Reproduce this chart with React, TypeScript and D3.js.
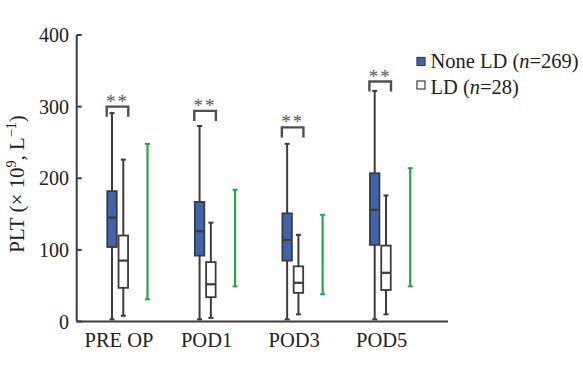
import React from "react";
import * as d3 from "d3";

const categories = ["PRE OP", "POD1", "POD3", "POD5"];
// None LD (n=269)
const noneMax = [291, 273, 248, 322];
const noneQ3 = [182, 167, 151, 207];
const noneMed = [145, 126, 114, 156];
const noneQ1 = [104, 92, 85, 107];
const noneMin = [3, 3, 3, 3];
// LD (n=28)
const ldMax = [226, 138, 121, 176];
const ldQ3 = [120, 83, 77, 106];
const ldMed = [85, 52, 54, 68];
const ldQ1 = [47, 34, 40, 44];
const ldMin = [8, 5, 10, 10];
// green reference ranges
const refTop = [248, 184, 149, 214];
const refBottom = [31, 49, 38, 49];
// significance brackets
const sigTop = [300, 294, 271, 335];
const sigLabels = ["**", "**", "**", "**"];
const yTicks = [0, 100, 200, 300, 400];

const FONT = "'Liberation Serif', 'Times New Roman', serif";
const STROKE = "#3c3c3c";
const BLUE = "#3e64ae";
const GREEN = "#1aa94c";

export default function App() {
  const W = 583, H = 382;
  const y = d3.scaleLinear().domain([0, 400]).range([321.5, 35]);
  const x = d3.scalePoint<string>().domain(categories).range([112, 374.7]);
  const axisX = 76.7;
  const boxW = 9.5;
  const ldOff = 11.3;
  const refOff = 35.5;
  const cap = 2.5;
  const unit = y(0) - y(20);

  const box = (cx: number, mn: number, q1: number, md: number, q3: number, mx: number, fill: string, key: string) => (
    <g key={key}>
      <line x1={cx} x2={cx} y1={y(mn)} y2={y(mx)} stroke={STROKE} strokeWidth={2} />
      <line x1={cx - cap} x2={cx + cap} y1={y(mx)} y2={y(mx)} stroke={STROKE} strokeWidth={2} />
      <line x1={cx - cap} x2={cx + cap} y1={y(mn)} y2={y(mn)} stroke={STROKE} strokeWidth={2} />
      <rect x={cx - boxW / 2} y={y(q3)} width={boxW} height={y(q1) - y(q3)} fill={fill} stroke={STROKE} strokeWidth={1.8} />
      <line x1={cx - boxW / 2} x2={cx + boxW / 2} y1={y(md)} y2={y(md)} stroke={STROKE} strokeWidth={2.2} />
    </g>
  );

  return (
    <svg width={W} height={H} style={{ position: "absolute", left: 0, top: 0, background: "#fff" }} fontFamily={FONT}>
      {/* axes */}
      <line x1={axisX} x2={axisX} y1={y(400)} y2={y(0)} stroke={STROKE} strokeWidth={2} />
      <line x1={axisX} x2={448} y1={y(0)} y2={y(0)} stroke={STROKE} strokeWidth={2} />
      {yTicks.map((t) => (
        <g key={t}>
          <line x1={axisX} x2={axisX + 5} y1={y(t)} y2={y(t)} stroke={STROKE} strokeWidth={2} />
          <text x={69} y={y(t)} dy="0.35em" textAnchor="end" fontSize={20} fill="#222">{t}</text>
        </g>
      ))}
      <text transform={`translate(24,${184}) rotate(-90)`} textAnchor="middle" fontSize={21} fill="#222">
        PLT (× 10<tspan fontSize={14} dy={-8}>9</tspan><tspan dy={8}>, L</tspan><tspan fontSize={14} dy={-8}>−1</tspan><tspan dy={8}>)</tspan>
      </text>
      {categories.map((c, i) => {
        const cx = x(c)!;
        const bx1 = cx - 5.3;
        const bx2 = cx + ldOff + 5;
        return (
          <g key={c}>
            <line x1={cx + refOff} x2={cx + refOff} y1={y(refTop[i])} y2={y(refBottom[i])} stroke={GREEN} strokeWidth={2.2} />
            <line x1={cx + refOff - cap} x2={cx + refOff + cap} y1={y(refTop[i])} y2={y(refTop[i])} stroke={GREEN} strokeWidth={2} />
            <line x1={cx + refOff - cap} x2={cx + refOff + cap} y1={y(refBottom[i])} y2={y(refBottom[i])} stroke={GREEN} strokeWidth={2} />
            {box(cx, noneMin[i], noneQ1[i], noneMed[i], noneQ3[i], noneMax[i], BLUE, "n" + c)}
            {box(cx + ldOff, ldMin[i], ldQ1[i], ldMed[i], ldQ3[i], ldMax[i], "#fff", "l" + c)}
            <path d={`M${bx1},${y(sigTop[i]) + unit * 0.7}V${y(sigTop[i])}H${bx2}V${y(sigTop[i]) + unit * 0.7}`} fill="none" stroke="#505050" strokeWidth={2.4} />
            <text x={(bx1 + bx2) / 2} y={y(sigTop[i]) + 1} textAnchor="middle" fontSize={19} fill="#555" letterSpacing={2}>{sigLabels[i]}</text>
            <text x={cx + 7} y={346.5} textAnchor="middle" fontSize={20.5} fill="#222">{c}</text>
          </g>
        );
      })}
      {/* legend */}
      <rect x={417} y={57.5} width={8} height={8} fill={BLUE} stroke={STROKE} strokeWidth={1.2} />
      <text x={430.5} y={67.5} fontSize={20.5} fill="#222">None LD (<tspan fontStyle="italic">n</tspan>=269)</text>
      <rect x={417} y={81} width={8} height={8} fill="#fff" stroke={STROKE} strokeWidth={1.2} />
      <text x={430.5} y={93.5} fontSize={20.5} fill="#222">LD (<tspan fontStyle="italic">n</tspan>=28)</text>
    </svg>
  );
}
